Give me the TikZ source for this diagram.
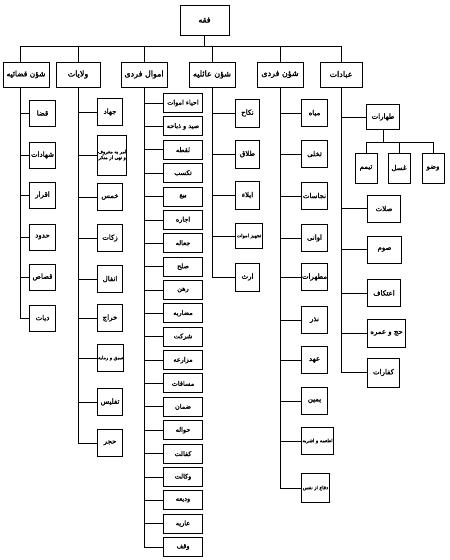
\documentclass[tikz,border=0pt]{standalone}
\usepackage{fontspec}
\newfontfamily\persianfont[Script=Arabic,FakeBold=1.6]{DejaVu Sans}
\TeXXeTstate=1
\newcommand{\fatxt}[1]{\beginR #1\endR}

\tikzset{
box/.style={draw,line width=1pt,fill=white,inner sep=0.5pt,
font=\persianfont\fontsize{7}{8}\selectfont},
topbox/.style={box,minimum width=46,minimum height=25,
font=\persianfont\fontsize{8}{9}\selectfont},
leaf/.style={box,anchor=west},
smallleaf/.style={leaf,minimum width=39,minimum height=19,
font=\persianfont\fontsize{6.5}{7.5}\selectfont},
tiny/.style={font=\persianfont\fontsize{4.8}{5.8}\selectfont},
link/.style={line width=0.8pt}
}

\begin{document}
\begin{tikzpicture}[x=1pt,y=-1pt]
\fill[white](0,0)rectangle(450,560);
\useasboundingbox(0,0)rectangle(450,560);

\node[box,minimum width=49,minimum height=30,font=\persianfont\fontsize{8}{9}\selectfont](F)at(204.5,20){\fatxt{فقه}};

\node[topbox,minimum width=46,font=\persianfont\fontsize{7.5}{8.5}\selectfont](S1)at(26,74.5){\fatxt{شؤن قضائیه}};
\node[topbox,minimum width=44](S2)at(78,74.5){\fatxt{ولایات}};
\node[topbox](S3)at(144,74.5){\fatxt{اموال فردی}};
\node[topbox](S4)at(212,74.5){\fatxt{شؤن عائلیه}};
\node[topbox](S5)at(280,74.5){\fatxt{شؤن فردی}};
\node[topbox,minimum width=42](S6)at(341,74.5){\fatxt{عبادات}};
\coordinate(S1n)at([xshift=-6]S1.north);
\coordinate(S1s)at([xshift=-6]S1.south);

\draw[link](F)--++(0,26)coordinate(B);
\draw[link](B)-|(S1n);
\draw[link](B)-|(S2);
\draw[link](B)-|(S3);
\draw[link](B)-|(S4);
\draw[link](B)-|(S5);
\draw[link](B)-|(S6);

% شؤن قضائیه
\node[leaf,minimum width=26,minimum height=26](q1)at(29,113){\fatxt{قضا}};
\node[leaf,minimum width=26,minimum height=26](q2)at(29,155){\fatxt{شهادات}};
\node[leaf,minimum width=26,minimum height=26](q3)at(29,195){\fatxt{اقرار}};
\node[leaf,minimum width=26,minimum height=26](q4)at(29,237){\fatxt{حدود}};
\node[leaf,minimum width=26,minimum height=26](q5)at(29,277){\fatxt{قصاص}};
\node[leaf,minimum width=26,minimum height=26](q6)at(29,318){\fatxt{دیات}};
\draw[link](S1s)|-(q1);
\draw[link](S1s)|-(q2);
\draw[link](S1s)|-(q3);
\draw[link](S1s)|-(q4);
\draw[link](S1s)|-(q5);
\draw[link](S1s)|-(q6);

% ولایات
\node[leaf,minimum width=25,minimum height=27](v1)at(97,112){\fatxt{جهاد}};
\node[leaf,minimum width=25,minimum height=40,align=center,tiny](v2)at(97,155)
{\fatxt{امر به معروف}\\\fatxt{و نهی از منکر}};
\node[leaf,minimum width=25,minimum height=27](v3)at(97,197){\fatxt{خمس}};
\node[leaf,minimum width=25,minimum height=27](v4)at(97,238){\fatxt{زکات}};
\node[leaf,minimum width=25,minimum height=27](v5)at(97,279){\fatxt{انفال}};
\node[leaf,minimum width=25,minimum height=27](v6)at(97,318){\fatxt{خراج}};
\node[leaf,minimum width=25,minimum height=27,tiny](v7)at(97,358){\fatxt{سبق و رمایه}};
\node[leaf,minimum width=25,minimum height=27](v8)at(97,402){\fatxt{تفلیس}};
\node[leaf,minimum width=25,minimum height=27](v9)at(97,443){\fatxt{حجر}};
\draw[link](S2)|-(v1);
\draw[link](S2)|-(v2);
\draw[link](S2)|-(v3);
\draw[link](S2)|-(v4);
\draw[link](S2)|-(v5);
\draw[link](S2)|-(v6);
\draw[link](S2)|-(v7);
\draw[link](S2)|-(v8);
\draw[link](S2)|-(v9);

% اموال فردی
\node[smallleaf](m1)at(163,103){\fatxt{احیاء اموات}};
\node[smallleaf](m2)at(163,126.4){\fatxt{صید و ذباحه}};
\node[smallleaf](m3)at(163,149.7){\fatxt{لقطه}};
\node[smallleaf](m4)at(163,173.1){\fatxt{تکسب}};
\node[smallleaf](m5)at(163,196.5){\fatxt{بیع}};
\node[smallleaf](m6)at(163,219.9){\fatxt{اجاره}};
\node[smallleaf](m7)at(163,243.2){\fatxt{جعاله}};
\node[smallleaf](m8)at(163,266.6){\fatxt{صلح}};
\node[smallleaf](m9)at(163,290){\fatxt{رهن}};
\node[smallleaf](m10)at(163,313.3){\fatxt{مضاربه}};
\node[smallleaf](m11)at(163,336.7){\fatxt{شرکت}};
\node[smallleaf](m12)at(163,360.1){\fatxt{مزارعه}};
\node[smallleaf](m13)at(163,383.4){\fatxt{مساقات}};
\node[smallleaf](m14)at(163,406.8){\fatxt{ضمان}};
\node[smallleaf](m15)at(163,430.2){\fatxt{حواله}};
\node[smallleaf](m16)at(163,453.6){\fatxt{کفالت}};
\node[smallleaf](m17)at(163,476.9){\fatxt{وکالت}};
\node[smallleaf](m18)at(163,500.3){\fatxt{ودیعه}};
\node[smallleaf](m19)at(163,523.7){\fatxt{عاریه}};
\node[smallleaf](m20)at(163,547){\fatxt{وقف}};
\draw[link](S3)|-(m1);
\draw[link](S3)|-(m2);
\draw[link](S3)|-(m3);
\draw[link](S3)|-(m4);
\draw[link](S3)|-(m5);
\draw[link](S3)|-(m6);
\draw[link](S3)|-(m7);
\draw[link](S3)|-(m8);
\draw[link](S3)|-(m9);
\draw[link](S3)|-(m10);
\draw[link](S3)|-(m11);
\draw[link](S3)|-(m12);
\draw[link](S3)|-(m13);
\draw[link](S3)|-(m14);
\draw[link](S3)|-(m15);
\draw[link](S3)|-(m16);
\draw[link](S3)|-(m17);
\draw[link](S3)|-(m18);
\draw[link](S3)|-(m19);
\draw[link](S3)|-(m20);

% شؤن عائلیه
\node[leaf,minimum width=24,minimum height=28](a1)at(235,113){\fatxt{نکاح}};
\node[leaf,minimum width=24,minimum height=28](a2)at(235,154){\fatxt{طلاق}};
\node[leaf,minimum width=24,minimum height=28](a3)at(235,195){\fatxt{ایلاء}};
\node[leaf,minimum width=27,minimum height=25,tiny](a4)at(235,236){\fatxt{تجهیز اموات}};
\node[leaf,minimum width=24,minimum height=28](a5)at(235,277){\fatxt{ارث}};
\draw[link](S4)|-(a1);
\draw[link](S4)|-(a2);
\draw[link](S4)|-(a3);
\draw[link](S4)|-(a4);
\draw[link](S4)|-(a5);

% شؤن فردی
\node[leaf,minimum width=26,minimum height=27](f1)at(301,113){\fatxt{میاه}};
\node[leaf,minimum width=26,minimum height=27](f2)at(301,154){\fatxt{تخلی}};
\node[leaf,minimum width=26,minimum height=27](f3)at(301,196){\fatxt{نجاسات}};
\node[leaf,minimum width=26,minimum height=27](f4)at(301,238){\fatxt{اوانی}};
\node[leaf,minimum width=26,minimum height=27](f5)at(301,277){\fatxt{مطهرات}};
\node[leaf,minimum width=26,minimum height=27](f6)at(301,320){\fatxt{نذر}};
\node[leaf,minimum width=26,minimum height=27](f7)at(301,360){\fatxt{عهد}};
\node[leaf,minimum width=26,minimum height=27](f8)at(301,401){\fatxt{یمین}};
\node[leaf,minimum width=32,minimum height=27,tiny](f9)at(301,441){\fatxt{اطعمه و اشربه}};
\node[leaf,minimum width=28,minimum height=29,tiny](f10)at(301,488){\fatxt{دفاع از نفس}};
\draw[link](S5)|-(f1);
\draw[link](S5)|-(f2);
\draw[link](S5)|-(f3);
\draw[link](S5)|-(f4);
\draw[link](S5)|-(f5);
\draw[link](S5)|-(f6);
\draw[link](S5)|-(f7);
\draw[link](S5)|-(f8);
\draw[link](S5)|-(f9);
\draw[link](S5)|-(f10);

% عبادات
\node[leaf,minimum width=33,minimum height=25](t0)at(366,117){\fatxt{طهارات}};
\node[box,minimum width=22,minimum height=30](t1)at(366,168){\fatxt{تیمم}};
\node[box,minimum width=22,minimum height=30](t2)at(399,168){\fatxt{غسل}};
\node[box,minimum width=22,minimum height=30](t3)at(433,168){\fatxt{وضو}};
\draw[link](t0)--++(0,25)coordinate(TB);
\draw[link](TB)-|(t1);
\draw[link](TB)-|(t2);
\draw[link](TB)-|(t3);
\node[leaf,minimum width=33,minimum height=27](e1)at(367,208.5){\fatxt{صلات}};
\node[leaf,minimum width=34,minimum height=27](e2)at(367,249.5){\fatxt{صوم}};
\node[leaf,minimum width=33,minimum height=27](e3)at(367,293){\fatxt{اعتکاف}};
\node[leaf,minimum width=38,minimum height=28](e4)at(367,333){\fatxt{حج و عمره}};
\node[leaf,minimum width=32,minimum height=29](e5)at(367,372.5){\fatxt{کفارات}};
\draw[link](S6)|-(t0);
\draw[link](S6)|-(e1);
\draw[link](S6)|-(e2);
\draw[link](S6)|-(e3);
\draw[link](S6)|-(e4);
\draw[link](S6)|-(e5);
\end{tikzpicture}
\end{document}
